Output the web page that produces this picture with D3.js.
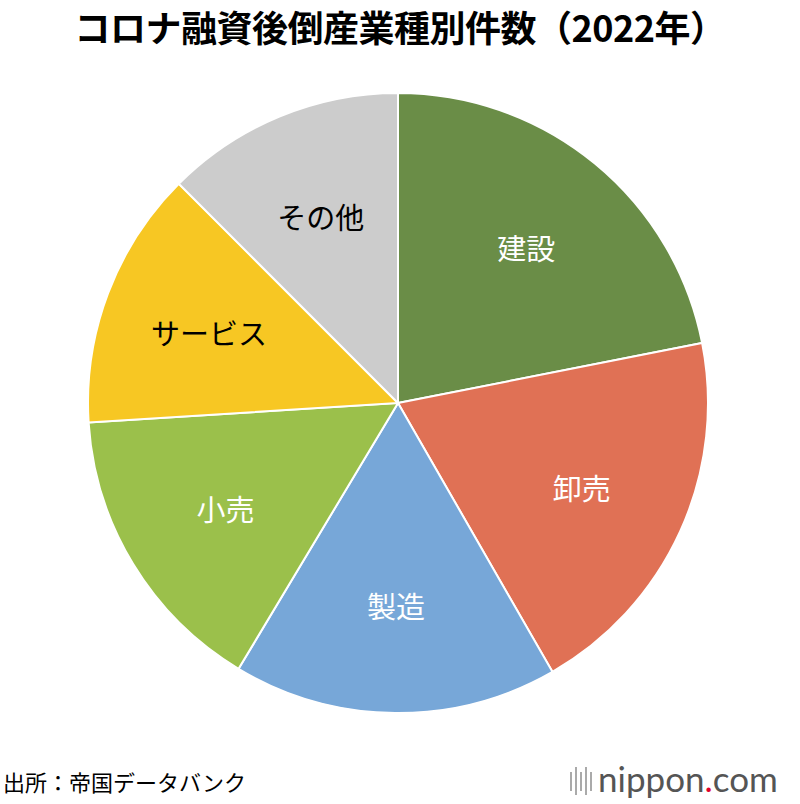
<!DOCTYPE html>
<html><head><meta charset="utf-8">
<script src="https://cdn.jsdelivr.net/npm/d3@7"></script>
<style>body{margin:0;background:#fff}</style>
</head><body>
<script>
const categories = ["建設","卸売","製造","小売","サービス","その他"];
const values = [21.9,19.8,16.9,15.4,13.5,12.5];
const colors = ["#6a8d47","#e07155","#77a7d8","#9bc04b","#f7c723","#cccccc"];
const labelColors = ["#fff","#fff","#fff","#fff","#000","#000"];

const W=800,H=804,cx=398,cy=403,R=310;
const svg=d3.select("body").append("svg").attr("width",W).attr("height",H)
  .style("font-family","'Noto Sans CJK JP',sans-serif");
svg.append("text").attr("x",400).attr("y",42).attr("text-anchor","middle")
  .attr("font-size",36).attr("font-weight",700).attr("letter-spacing",-0.5).text("コロナ融資後倒産業種別件数（2022年）");
const pie=d3.pie().sort(null).value(d=>d)(values);
const arc=d3.arc().innerRadius(0).outerRadius(R);
const lab=d3.arc().innerRadius(202).outerRadius(202);
const g=svg.append("g").attr("transform",`translate(${cx},${cy})`);
g.selectAll("path").data(pie).join("path").attr("d",arc)
  .attr("fill",(d,i)=>colors[i]).attr("stroke","#fff").attr("stroke-width",2);
g.selectAll("text").data(pie).join("text")
  .attr("transform",d=>`translate(${lab.centroid(d)})`)
  .attr("text-anchor","middle").attr("dominant-baseline","central")
  .attr("font-size",29).attr("fill",(d,i)=>labelColors[i])
  .text((d,i)=>categories[i]);
svg.append("text").attr("x",3).attr("y",791).attr("font-size",22).text("出所：帝国データバンク");
const lg=svg.append("g");
[0,1,2,3,4].forEach(i=>lg.append("rect").attr("x",570+i*5).attr("y",i%2?767:772).attr("width",2).attr("height",i%2?28:19).attr("fill","#aaa"));
lg.append("text").attr("x",598).attr("y",792).attr("font-size",35).attr("font-family","Lato,sans-serif").attr("fill","#555")
  .html('nippon<tspan fill="#e0002a">.</tspan>com');
</script>
</body></html>
